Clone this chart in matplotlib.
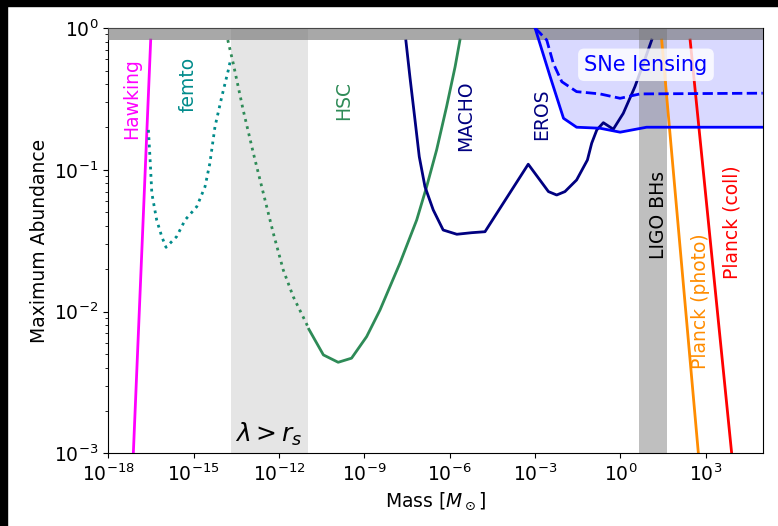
import numpy as np
import matplotlib
matplotlib.use("Agg")
import matplotlib.pyplot as plt
from matplotlib.patches import Rectangle

# curves, stored as log10(mass), log10(abundance)
hawking_lx = [-17.12, -16.51]
hawking_ly = [-3.0, -0.085]

femto_lx = [-16.59, -16.53, -16.47, -16.30, -16.12, -15.97, -15.60, -15.30,
            -14.89, -14.60, -14.43, -14.25, -14.01, -13.78, -13.72]
femto_ly = [-0.719, -0.931, -1.166, -1.354, -1.472, -1.547, -1.472, -1.354,
            -1.260, -1.119, -0.954, -0.696, -0.484, -0.296, -0.240]

hsc_dot_lx = [-13.80, -13.61, -13.26, -12.90, -12.55, -12.20, -11.85, -11.50, -11.03, -10.95]
hsc_dot_ly = [-0.085, -0.249, -0.578, -0.884, -1.166, -1.448, -1.707, -1.895, -2.088, -2.125]
hsc_lx = [-10.95, -10.44, -9.92, -9.45, -8.92, -8.45, -7.75, -7.16,
          -6.81, -6.46, -6.11, -5.81, -5.64]
hsc_ly = [-2.125, -2.306, -2.358, -2.329, -2.177, -1.989, -1.659, -1.354,
          -1.119, -0.860, -0.555, -0.273, -0.085]

macho_lx = [-7.54, -7.40, -7.22, -7.07, -6.87, -6.58, -6.23, -5.75, -5.23, -4.76,
            -3.24, -2.53, -2.24, -1.95, -1.54, -1.16, -1.01, -0.83, -0.60, -0.25,
            0.10, 0.51, 0.81, 1.10]
macho_ly = [-0.090, -0.343, -0.649, -0.908, -1.119, -1.283, -1.425, -1.455, -1.444, -1.437,
            -0.961, -1.154, -1.178, -1.154, -1.072, -0.931, -0.813, -0.719, -0.668, -0.714,
            -0.602, -0.414, -0.249, -0.085]

sne_lx = [-3.00, -2.47, -2.00, -1.54, -0.72, -0.01, 0.92, 5.0]
sne_ly = [0.0, -0.343, -0.637, -0.700, -0.707, -0.735, -0.700, -0.700]
sne_dash_lx = [-3.00, -2.59, -2.36, -2.06, -1.54, -0.72, -0.01, 0.69, 5.0]
sne_dash_ly = [0.0, -0.085, -0.249, -0.379, -0.449, -0.465, -0.496, -0.465, -0.460]

planck_photo_lx = [1.45, 2.74]
planck_photo_ly = [-0.085, -3.0]
planck_coll_lx = [2.45, 3.91]
planck_coll_ly = [-0.085, -3.0]

# shaded regions
lambda_band = [2e-14, 1.07e-11]
ligo_band = [4.5, 42.0]
top_band = [0.822, 1.0]

xticks = [1e-18, 1e-15, 1e-12, 1e-9, 1e-6, 1e-3, 1e0, 1e3]


def p(l):
    return 10.0 ** np.array(l)


fig = plt.figure(figsize=(7.78, 5.26), dpi=100)
ax = fig.add_axes([0.1392, 0.1382, 0.8411, 0.8086])
fs = 13.5

ax.axvspan(*lambda_band, color="gray", alpha=0.2, lw=0, zorder=1)
ax.fill_between(p(sne_lx), p(sne_ly), 1.0, color="blue", alpha=0.15, lw=0, zorder=1)
ax.axvspan(*ligo_band, color="gray", alpha=0.5, lw=0, zorder=1.5)

ax.plot(p(hawking_lx), p(hawking_ly), color="magenta", lw=2, zorder=2)
ax.plot(p(femto_lx), p(femto_ly), color="darkcyan", lw=2, ls=":", zorder=2)
ax.plot(p(hsc_dot_lx), p(hsc_dot_ly), color="seagreen", lw=2, ls=":", zorder=2)
ax.plot(p(hsc_lx), p(hsc_ly), color="seagreen", lw=2, zorder=2)
ax.plot(p(macho_lx), p(macho_ly), color="navy", lw=2, zorder=2)
ax.plot(p(planck_photo_lx), p(planck_photo_ly), color="darkorange", lw=2, zorder=2)
ax.plot(p(planck_coll_lx), p(planck_coll_ly), color="red", lw=2, zorder=2)

ax.axhspan(*top_band, color="0.45", alpha=0.62, lw=0, zorder=3)

ax.plot(p(sne_lx), p(sne_ly), color="blue", lw=2, zorder=4)
ax.plot(p(sne_dash_lx), p(sne_dash_ly), color="blue", lw=2, ls="--", zorder=4)

# labels
ax.text(6.6e-18, 0.316, "Hawking", color="magenta", rotation=90, fontsize=fs, ha="center", va="center")
ax.text(6.3e-16, 0.40, "femto", color="darkcyan", rotation=90, fontsize=fs, ha="center", va="center")
ax.text(1.8e-10, 0.31, "HSC", color="seagreen", rotation=90, fontsize=fs, ha="center", va="center")
ax.text(3.7e-6, 0.24, "MACHO", color="navy", rotation=90, fontsize=fs, ha="center", va="center")
ax.text(1.7e-3, 0.247, "EROS", color="navy", rotation=90, fontsize=fs, ha="center", va="center")
ax.text(21, 0.048, "LIGO BHs", color="black", rotation=90, fontsize=fs, ha="center", va="center")
ax.text(630, 0.0119, "Planck (photo)", color="darkorange", rotation=90, fontsize=fs, ha="center", va="center")
ax.text(8300, 0.043, "Planck (coll)", color="red", rotation=90, fontsize=fs, ha="center", va="center")
ax.text(7.9, 0.55, "SNe lensing", color="blue", fontsize=15, ha="center", va="center", zorder=6,
        bbox=dict(boxstyle="round,pad=0.3", fc="white", ec="none", alpha=0.8))
ax.text(4.5e-13, 1.35e-3, r"$\lambda > r_s$", color="black", fontsize=18, ha="center", va="center")

ax.set_xscale("log")
ax.set_yscale("log")
ax.set_xlim(1e-18, 1e5)
ax.set_ylim(1e-3, 1)
ax.set_xticks(xticks)
ax.xaxis.set_minor_locator(matplotlib.ticker.NullLocator())
ax.tick_params(labelsize=fs)
ax.set_xlabel(r"Mass [$M_\odot$]", fontsize=fs)
ax.set_ylabel("Maximum Abundance", fontsize=fs)

# black strips along the top and left edge of the picture
fig.patches.append(Rectangle((0, 1 - 6 / 526), 1, 6 / 526, transform=fig.transFigure,
                             color="black", zorder=10))
fig.patches.append(Rectangle((0, 0), 7 / 778, 1, transform=fig.transFigure,
                             color="black", zorder=10))

fig.savefig("out.png", dpi=100)
